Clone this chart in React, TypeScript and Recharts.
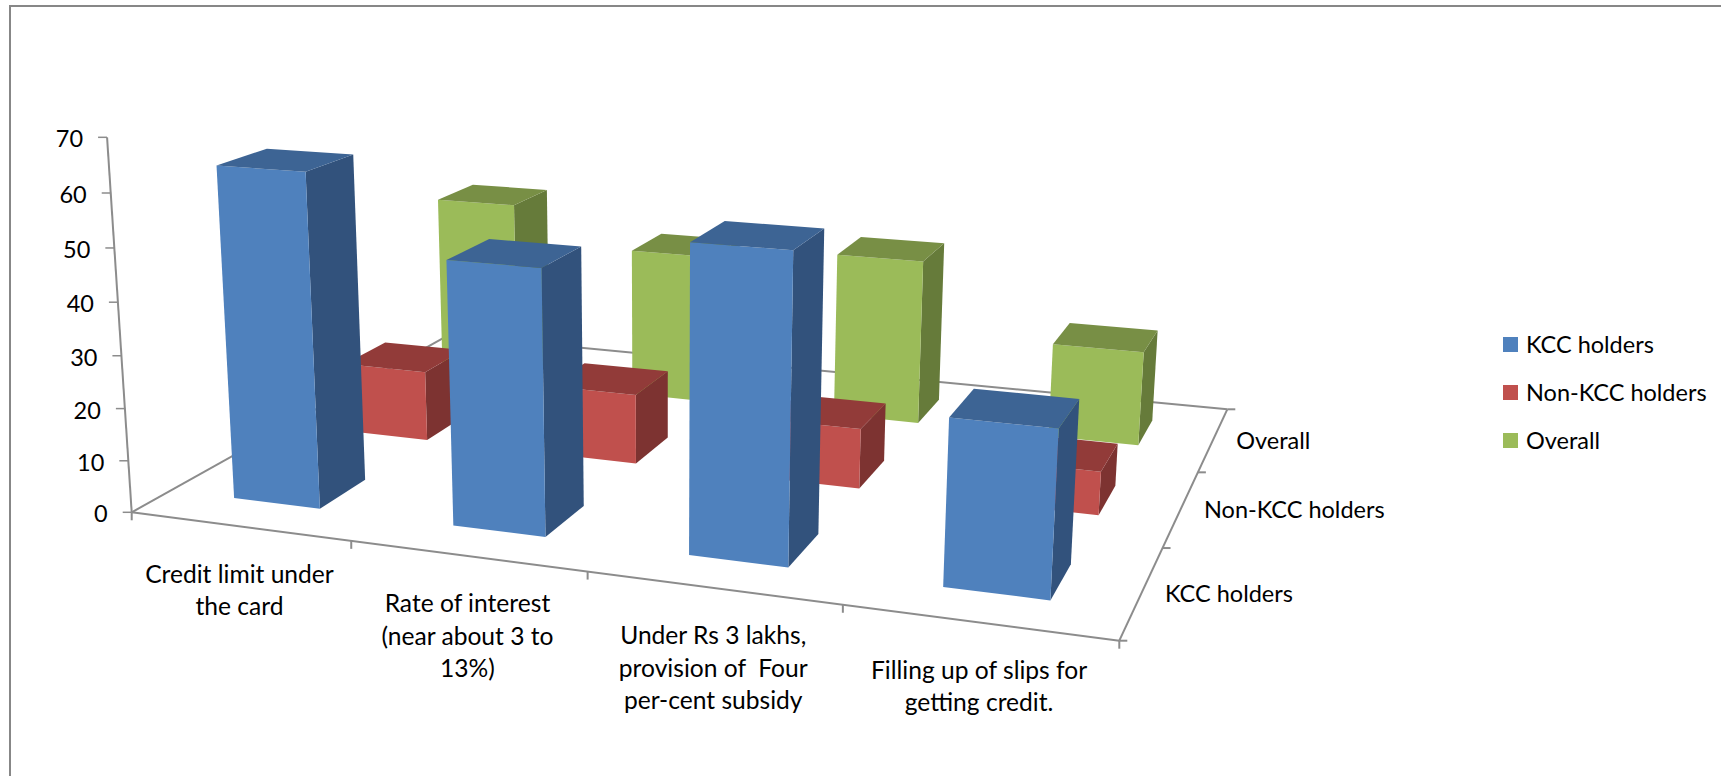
import { BarChart, Bar, XAxis, YAxis, Legend, Customized } from 'recharts';

// Chart data
const categories = [
  'Credit limit under the card',
  'Rate of interest (near about 3 to 13%)',
  'Under Rs 3 lakhs, provision of  Four per-cent subsidy',
  'Filling up of slips for getting credit.',
];
const categoryLines = [
  ['Credit limit under', 'the card'],
  ['Rate of interest', '(near about 3 to', '13%)'],
  ['Under Rs 3 lakhs,', 'provision of  Four', 'per-cent subsidy'],
  ['Filling up of slips for', 'getting credit.'],
];
const kccHolders = [63.4, 49.4, 56, 29.8];
const nonKccHolders = [14.3, 14, 11.8, 8.4];
const overall = [39.8, 31.8, 34.4, 19.4];
const seriesNames = ['KCC holders', 'Non-KCC holders', 'Overall'];
const valueTicks = [0, 10, 20, 30, 40, 50, 60, 70];

const WIDTH = 1721;
const HEIGHT = 776;
const MAX_VALUE = 70;
const FONT = 'Lato, sans-serif';
const FONT_SIZE = 23.5;
const CATEGORY_FONT_SIZE = 24.6;
const AXIS_COLOR = '#8c8c8c';

// Screen position of the floor corners: front-left, front-right, back-right, back-left
const FL = [131.7, 512.3];
const FR = [1119.3, 640.7];
const BR = [1227.3, 409.3];
const BL = [448.5, 335.2];
// Uprights converge towards this point below the chart
const VP = [663, 8600];
const RISE = -0.000633;

// Floor homography from the unit square
const dx1 = FR[0] - BR[0];
const dx2 = BL[0] - BR[0];
const dy1 = FR[1] - BR[1];
const dy2 = BL[1] - BR[1];
const sx = FL[0] - FR[0] + BR[0] - BL[0];
const sy = FL[1] - FR[1] + BR[1] - BL[1];
const den = dx1 * dy2 - dx2 * dy1;
const g = (sx * dy2 - dx2 * sy) / den;
const k = (dx1 * sy - sx * dy1) / den;
const a = FR[0] - FL[0] + g * FR[0];
const b = BL[0] - FL[0] + k * BL[0];
const d = FR[1] - FL[1] + g * FR[1];
const e = BL[1] - FL[1] + k * BL[1];

// u runs along the categories, v along the series, h is the value
function project(u: number, v: number, h: number) {
  const w = g * u + k * v + 1 + h * RISE;
  return {
    x: (a * u + b * v + FL[0] + h * RISE * VP[0]) / w,
    y: (d * u + e * v + FL[1] + h * RISE * VP[1]) / w,
  };
}

const poly = (pts: { x: number; y: number }[]) => pts.map((p) => `${p.x},${p.y}`).join(' ');

const ROW_FILL = 0.4;
const BAR_SIZE = Math.round((WIDTH / 4) * 0.4);

interface BoxProps {
  x?: number;
  width?: number;
  height?: number;
  row: number;
  front: string;
  top: string;
  side: string;
}

// One column: the flat bar from the scales is lifted onto the floor
function Box({ x = 0, width = 0, height = 0, row, front, top, side }: BoxProps) {
  const u0 = x / WIDTH;
  const u1 = (x + width) / WIDTH;
  const v0 = (row + 0.5 - ROW_FILL / 2) / seriesNames.length;
  const v1 = (row + 0.5 + ROW_FILL / 2) / seriesNames.length;
  const h = (height / HEIGHT) * MAX_VALUE;
  const a0 = project(u0, v0, 0);
  const a1 = project(u1, v0, 0);
  const a2 = project(u1, v1, 0);
  const t0 = project(u0, v0, h);
  const t1 = project(u1, v0, h);
  const t2 = project(u1, v1, h);
  const t3 = project(u0, v1, h);
  return (
    <g>
      <polygon points={poly([a1, a2, t2, t1])} fill={side} />
      <polygon points={poly([a0, a1, t1, t0])} fill={front} />
      <polygon points={poly([t0, t1, t2, t3])} fill={top} />
    </g>
  );
}

const ValueTick = ({ payload }: any) => {
  const p = project(0, 0, payload.value);
  return (
    <g>
      <line x1={p.x - 9} y1={p.y} x2={p.x} y2={p.y} stroke={AXIS_COLOR} strokeWidth={1.5} />
      <text x={p.x - 24} y={p.y + 10} textAnchor="end" fontFamily={FONT} fontSize={FONT_SIZE} fill="#000">
        {payload.value}
      </text>
    </g>
  );
};

const CategoryTick = ({ payload, index }: any) => {
  const i = index ?? payload.index;
  const left = project(i / 4, 0, 0);
  const right = project((i + 1) / 4, 0, 0);
  const cx = (left.x + right.x) / 2 - 2;
  const cy = (left.y + right.y) / 2 + 56;
  return (
    <text textAnchor="middle" fontFamily={FONT} fontSize={CATEGORY_FONT_SIZE} fill="#000">
      {categoryLines[i].map((line, n) => (
        <tspan key={n} x={cx} y={cy + n * 32.5} xmlSpace="preserve">
          {line}
        </tspan>
      ))}
    </text>
  );
};

// Floor outline, its ticks, the series labels on the depth axis and the outer frame
function FloorAndFrame() {
  const line = (p: { x: number; y: number }, q: { x: number; y: number }, key: string) => (
    <line key={key} x1={p.x} y1={p.y} x2={q.x} y2={q.y} stroke={AXIS_COLOR} strokeWidth={2} />
  );
  const fl = project(0, 0, 0);
  const fr = project(1, 0, 0);
  const br = project(1, 1, 0);
  const bl = project(0, 1, 0);
  const top = project(0, 0, MAX_VALUE);
  return (
    <g>
      <path d={`M10 776V6H${WIDTH}`} fill="none" stroke="#878787" strokeWidth={2} />
      {line(fl, top, 'value')}
      {line(fl, fr, 'front')}
      {line(fr, br, 'right')}
      {line(br, bl, 'back')}
      {line(bl, fl, 'left')}
      {[0, 1, 2, 3, 4].map((t) => {
        const p = project(t / 4, 0, 0);
        return line(p, { x: p.x, y: p.y + 8 }, `cat-${t}`);
      })}
      {[0, 1, 2, 3].map((t) => {
        const p = project(1, t / 3, 0);
        return line(p, { x: p.x + 8, y: p.y }, `row-${t}`);
      })}
      {seriesNames.map((name, r) => {
        const p = project(1, (r + 0.5) / 3, 0);
        return (
          <text key={name} x={p.x + 23} y={p.y + 10} fontFamily={FONT} fontSize={FONT_SIZE} fill="#000">
            {name}
          </text>
        );
      })}
    </g>
  );
}

const swatches = ['#4F81BD', '#C0504D', '#9BBB59'];

function LegendList() {
  return (
    <div style={{ fontFamily: FONT, fontSize: FONT_SIZE, color: '#000' }}>
      {seriesNames.map((name, i) => (
        <div key={name} style={{ display: 'flex', alignItems: 'center', height: 48 }}>
          <span style={{ width: 15, height: 15, background: swatches[i], marginRight: 8 }} />
          {name}
        </div>
      ))}
    </div>
  );
}

const chartData = categories.map((name, i) => ({
  name,
  kcc: kccHolders[i],
  nonKcc: nonKccHolders[i],
  overall: overall[i],
}));

export default function App() {
  return (
    <div style={{ position: 'absolute', left: 0, top: 0, width: WIDTH, height: HEIGHT, background: '#fff' }}>
      <BarChart
        width={WIDTH}
        height={HEIGHT}
        data={chartData}
        margin={{ top: 0, right: 0, bottom: -1, left: -1 }}
        barSize={BAR_SIZE}
        barGap={-BAR_SIZE}
      >
        <Customized component={FloorAndFrame} />
        <XAxis dataKey="name" height={1} interval={0} axisLine={false} tickLine={false} tick={<CategoryTick />} />
        <YAxis width={1} domain={[0, MAX_VALUE]} ticks={valueTicks} interval={0} axisLine={false} tickLine={false} tick={<ValueTick />} />
        <Legend
          layout="vertical"
          align="center"
          verticalAlign="middle"
          wrapperStyle={{ position: 'absolute', left: 1503, top: 320, width: 215 }}
          content={<LegendList />}
        />
        {/* Drawn back to front so nearer columns cover the ones behind them */}
        <Bar
          dataKey="overall"
          name="Overall"
          isAnimationActive={false}
          shape={(p: any) => <Box {...p} row={2} front="#9BBB59" top="#788F45" side="#667B3A" />}
        />
        <Bar
          dataKey="nonKcc"
          name="Non-KCC holders"
          isAnimationActive={false}
          shape={(p: any) => <Box {...p} row={1} front="#C0504D" top="#923B39" side="#7D3331" />}
        />
        <Bar
          dataKey="kcc"
          name="KCC holders"
          isAnimationActive={false}
          shape={(p: any) => <Box {...p} row={0} front="#4F81BD" top="#3D6494" side="#32527C" />}
        />
      </BarChart>
    </div>
  );
}
